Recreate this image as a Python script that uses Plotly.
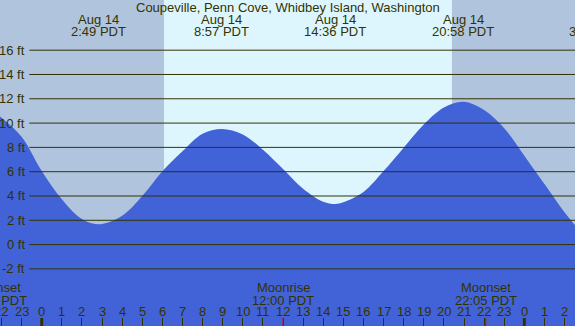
import plotly.graph_objects as go

# ---------------- data ----------------
title_text = "Coupeville, Penn Cove, Whidbey Island, Washington"

# tide curve (hours since Aug 14 00:00 PDT, height in ft), read hour by hour
tide_hours = [-2.074, -1, 0, 1, 2, 2.82, 4, 5, 6, 7, 8, 8.95, 10, 11, 12, 13, 14, 14.6,
              15, 16, 17, 18, 19, 20, 20.97, 22, 23, 24, 25, 26, 26.52]
tide_ft = [10.55, 8.88, 6.06, 3.73, 2.1, 1.67, 2.38, 4.0, 6.04, 7.68, 9.12, 9.51, 9.07,
           7.8, 6.22, 4.6, 3.53, 3.34, 3.48, 4.33, 6.05, 7.98, 9.88, 11.28, 11.76,
           11.08, 9.58, 7.32, 4.98, 2.66, 1.6]

# high / low tide labels
extreme_hours = [2.817, 8.95, 14.6, 20.967, 27.583]
extreme_dates = ["Aug 14", "Aug 14", "Aug 14", "Aug 14", "Aug 15"]
extreme_times = ["2:49 PDT", "8:57 PDT", "14:36 PDT", "20:58 PDT", "3:35 PDT"]

# moon events
moon_hours = [-2.267, 12.0, 22.083]
moon_events = ["Moonset", "Moonrise", "Moonset"]
moon_times = ["21:44 PDT", "12:00 PDT", "22:05 PDT"]

# daylight
sunrise_hour = 6.08
sunset_hour = 20.40

# axes
hour_ticks = list(range(-2, 27))
hour_labels = [str(h % 24) for h in hour_ticks]
midnight_ticks = [0, 24]
depth_ticks = [-2, 0, 2, 4, 6, 8, 10, 12, 14, 16]
depth_labels = [f"{v} ft" for v in depth_ticks]

# ---------------- style ----------------
W, H = 575, 326
X_RANGE = [-2.074, 26.52]
Y_RANGE = [-6.70, 20.13]
NIGHT = "#b0c4de"
DAY = "#ddf6fe"
WATER = "#4262d8"
INK = "#333300"
FONT = "Liberation Sans, Arial, sans-serif"


def px_x(h):
    return (h - X_RANGE[0]) / (X_RANGE[1] - X_RANGE[0])


def py(pix):
    return 1 - pix / H


fig = go.Figure()

# floor for the water fill
fig.add_trace(go.Scatter(x=[X_RANGE[0], X_RANGE[1]], y=[Y_RANGE[0], Y_RANGE[0]],
                         mode="lines", line=dict(width=0), hoverinfo="skip",
                         showlegend=False))
fig.add_trace(go.Scatter(x=tide_hours, y=tide_ft, mode="lines",
                         line=dict(color=WATER, width=0, shape="spline", smoothing=1),
                         fill="tonexty", fillcolor=WATER, showlegend=False))

shapes = []
# daylight band
shapes.append(dict(type="rect", xref="x", yref="paper", x0=sunrise_hour, x1=sunset_hour,
                   y0=0, y1=1, fillcolor=DAY, line=dict(width=0), layer="below"))
# gridlines over the water
for v in depth_ticks:
    shapes.append(dict(type="line", xref="paper", yref="y", x0=29.3 / W, x1=1,
                       y0=v, y1=v, line=dict(color=INK, width=1), layer="above"))
# midnight ticks
for m in midnight_ticks:
    shapes.append(dict(type="line", xref="x", yref="paper", x0=m, x1=m,
                       y0=0, y1=8 / H, line=dict(color=INK, width=3), layer="above"))
# moon event ticks
for mh in moon_hours:
    shapes.append(dict(type="line", xref="x", yref="paper", x0=mh, x1=mh,
                       y0=0, y1=8 / H, line=dict(color="#dd0000", width=1), layer="above"))

ann = []
tf = dict(family=FONT, size=13, color=INK)
ann.append(dict(text=title_text, xref="paper", yref="paper", x=0.5, y=py(8),
                xanchor="center", yanchor="middle", showarrow=False, font=tf))
for h, d, t in zip(extreme_hours, extreme_dates, extreme_times):
    ann.append(dict(text=d, xref="paper", yref="paper", x=px_x(h), y=py(19.5),
                    xanchor="center", yanchor="middle", showarrow=False, font=tf))
    ann.append(dict(text=t, xref="paper", yref="paper", x=px_x(h), y=py(31.5),
                    xanchor="center", yanchor="middle", showarrow=False, font=tf))
for h, e, t in zip(moon_hours, moon_events, moon_times):
    ann.append(dict(text=e, xref="paper", yref="paper", x=px_x(h), y=py(287),
                    xanchor="center", yanchor="middle", showarrow=False, font=tf))
    ann.append(dict(text=t, xref="paper", yref="paper", x=px_x(h), y=py(300),
                    xanchor="center", yanchor="middle", showarrow=False, font=tf))
for v, lab in zip(depth_ticks, depth_labels):
    ann.append(dict(text=lab, xref="paper", yref="y", x=27 / W, y=v,
                    xanchor="right", yanchor="middle", showarrow=False, font=tf))
for h, lab in zip(hour_ticks, hour_labels):
    ann.append(dict(text=lab, xref="paper", yref="paper", x=px_x(h), y=py(311.5),
                    xanchor="center", yanchor="middle", showarrow=False, font=tf))

fig.update_layout(
    width=W, height=H, margin=dict(l=0, r=0, t=0, b=0, pad=0),
    paper_bgcolor=NIGHT, plot_bgcolor=NIGHT,
    shapes=shapes, annotations=ann, showlegend=False,
    xaxis=dict(range=X_RANGE, tickvals=hour_ticks, ticktext=hour_labels,
               ticks="inside", ticklen=8, tickwidth=1, tickcolor=INK,
               showticklabels=False, showgrid=False, zeroline=False, showline=False,
               fixedrange=True),
    yaxis=dict(range=Y_RANGE, showgrid=False, zeroline=False, showticklabels=False,
               showline=False, ticks="", fixedrange=True),
)

fig.write_html("out.html", config={"displayModeBar": False},
               post_script="document.body.style.margin='0px';"
                           "document.body.style.overflow='hidden';")
